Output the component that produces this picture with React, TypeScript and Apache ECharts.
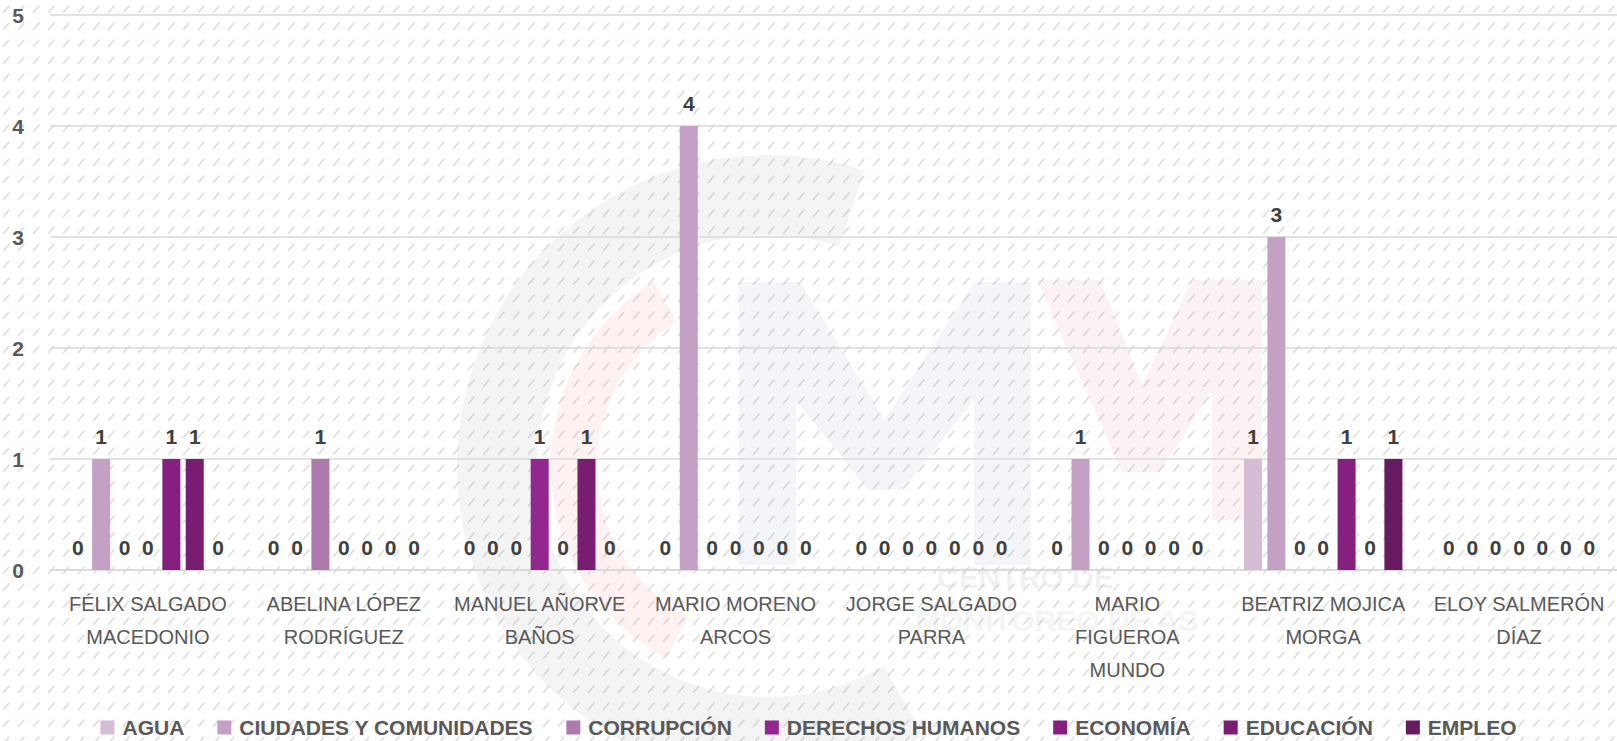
import React, { useEffect, useRef } from "react";
import * as echarts from "echarts";

const categories = [
  "FÉLIX SALGADO\nMACEDONIO",
  "ABELINA LÓPEZ\nRODRÍGUEZ",
  "MANUEL AÑORVE\nBAÑOS",
  "MARIO MORENO\nARCOS",
  "JORGE SALGADO\nPARRA",
  "MARIO\nFIGUEROA\nMUNDO",
  "BEATRIZ MOJICA\nMORGA",
  "ELOY SALMERÓN\nDÍAZ",
];

const seriesNames = [
  "AGUA",
  "CIUDADES Y COMUNIDADES",
  "CORRUPCIÓN",
  "DERECHOS HUMANOS",
  "ECONOMÍA",
  "EDUCACIÓN",
  "EMPLEO",
];

const agua = [0, 0, 0, 0, 0, 0, 1, 0];
const ciudades = [1, 0, 0, 4, 0, 1, 3, 0];
const corrupcion = [0, 1, 0, 0, 0, 0, 0, 0];
const derechos = [0, 0, 1, 0, 0, 0, 0, 0];
const economia = [1, 0, 0, 0, 0, 0, 1, 0];
const educacion = [1, 0, 1, 0, 0, 0, 0, 0];
const empleo = [0, 0, 0, 0, 0, 0, 1, 0];

const seriesValues = [agua, ciudades, corrupcion, derechos, economia, educacion, empleo];
const seriesColors = ["#D4BDD5", "#C4A0C5", "#AE7AAE", "#93278F", "#86207F", "#781D72", "#661A5F"];

const yTicks = [0, 1, 2, 3, 4, 5];

const FONT = "'Liberation Sans', Arial, sans-serif";

const hatchSvg =
  "<svg xmlns='http://www.w3.org/2000/svg' width='15' height='17'>" +
  "<line x1='3.5' y1='12.5' x2='9' y2='6' stroke='#dcdcdc' stroke-width='1.5' stroke-linecap='round'/>" +
  "</svg>";
const hatchUrl = "url(\"data:image/svg+xml," + encodeURIComponent(hatchSvg) + "\")";

const deg = (d: number) => (d * Math.PI) / 180;

export default function App() {
  const ref = useRef<HTMLDivElement>(null);

  useEffect(() => {
    if (!ref.current) return;
    const chart = echarts.init(ref.current, undefined, { renderer: "svg" });

    const series = seriesNames.map((name, i) => ({
      name,
      type: "bar",
      data: seriesValues[i],
      barWidth: 18,
      barGap: "30%",
      itemStyle: { color: seriesColors[i] },
      z: 3,
      label: {
        show: true,
        position: "top",
        distance: 12,
        fontSize: 21,
        fontWeight: "bold",
        color: "#404040",
        fontFamily: FONT,
      },
    }));

    chart.setOption({
      animation: false,
      backgroundColor: "transparent",
      textStyle: { fontFamily: FONT },
      graphic: [
        {
          type: "arc",
          z: 0,
          silent: true,
          shape: { cx: 768, cy: 466, r: 271, startAngle: deg(60), endAngle: deg(288), clockwise: true },
          style: { stroke: "rgba(150,150,150,0.10)", lineWidth: 80, fill: null },
        },
        {
          type: "arc",
          z: 0,
          silent: true,
          shape: { cx: 768, cy: 466, r: 194, startAngle: deg(118), endAngle: deg(238), clockwise: true },
          style: { stroke: "rgba(235,140,150,0.12)", lineWidth: 46, fill: null },
        },
        {
          type: "polygon",
          z: 0,
          silent: true,
          shape: {
            points: [
              [739, 282], [800, 282], [885, 420], [974, 282], [1031, 282], [1031, 565],
              [974, 565], [974, 400], [902, 490], [868, 490], [796, 400], [796, 565], [739, 565],
            ],
          },
          style: { fill: "rgba(120,130,175,0.08)" },
        },
        {
          type: "polygon",
          z: 0,
          silent: true,
          shape: {
            points: [
              [1037, 280], [1100, 280], [1142, 385], [1192, 280], [1262, 280], [1262, 520],
              [1212, 520], [1212, 390], [1160, 472], [1122, 472],
            ],
          },
          style: { fill: "rgba(235,130,140,0.10)" },
        },
        {
          type: "text",
          z: 0,
          silent: true,
          left: 937,
          top: 562,
          style: { text: "CENTRO DE", fontSize: 30, fontWeight: "bold", fill: "rgba(150,150,150,0.13)", fontFamily: FONT },
        },
        {
          type: "text",
          z: 0,
          silent: true,
          left: 915,
          top: 605,
          style: { text: "MONITOREO DE AS", fontSize: 30, fontWeight: "bold", fill: "rgba(150,150,150,0.11)", fontFamily: FONT },
        },
      ],
      legend: {
        data: seriesNames,
        left: "center",
        top: 712,
        icon: "rect",
        itemWidth: 14,
        itemHeight: 14,
        itemGap: 33,
        textStyle: { fontSize: 21, fontWeight: "bold", color: "#595959", fontFamily: FONT, padding: [0, 0, 0, 3] },
      },
      grid: { left: 50, right: 0, top: 15, bottom: 171, containLabel: false },
      xAxis: {
        type: "category",
        data: categories,
        axisTick: { show: false },
        axisLine: { show: true, lineStyle: { color: "#d9d9d9", width: 1.5 } },
        axisLabel: {
          interval: 0,
          margin: 17,
          fontSize: 20,
          lineHeight: 33,
          color: "#595959",
          fontFamily: FONT,
        },
      },
      yAxis: {
        type: "value",
        min: yTicks[0],
        max: yTicks[yTicks.length - 1],
        interval: 1,
        axisLine: { show: false },
        axisTick: { show: false },
        splitLine: { lineStyle: { color: "#d9d9d9", width: 1.5 } },
        axisLabel: {
          margin: 26,
          fontSize: 21,
          fontWeight: "bold",
          color: "#595959",
          fontFamily: FONT,
        },
      },
      series,
    });

    return () => chart.dispose();
  }, []);

  return (
    <div
      ref={ref}
      style={{
        position: "fixed",
        left: 0,
        top: 0,
        width: 1617,
        height: 741,
        backgroundColor: "#ffffff",
        backgroundImage: hatchUrl,
        backgroundRepeat: "repeat",
      }}
    />
  );
}
